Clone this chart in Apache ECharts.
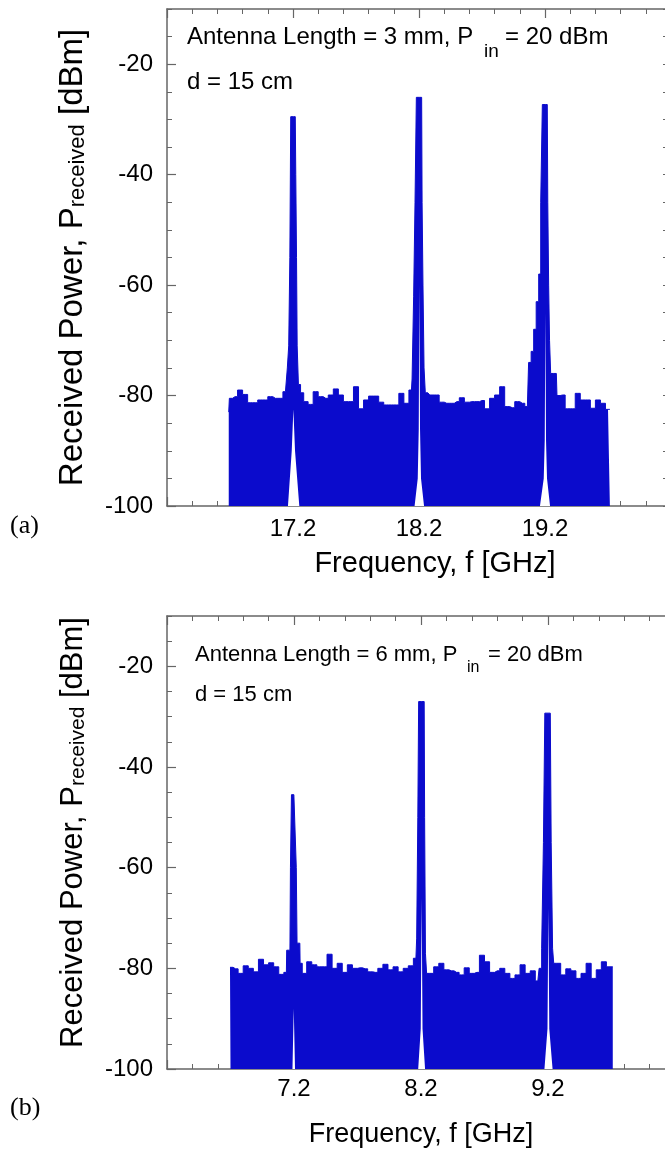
<!DOCTYPE html>
<html><head><meta charset="utf-8">
<script src="https://cdn.jsdelivr.net/npm/echarts@6/dist/echarts.min.js"></script>
<style>html,body{margin:0;padding:0;background:#fff}#c{width:665px;height:1152px}</style>
</head><body><div id="c"></div>
<script>
// ---------- Panel (a): 17.2 / 18.2 / 19.2 GHz, antenna 3 mm ----------
const freqA = [16.69, 16.70, 16.74, 16.78, 16.82, 16.86, 16.90, 16.94, 16.98, 17.02, 17.06, 17.10, 17.14,
  17.15, 17.16, 17.172, 17.178, 17.186, 17.218, 17.226, 17.23, 17.236, 17.25, 17.27,
  17.30, 17.34, 17.38, 17.42, 17.46, 17.50, 17.54, 17.58, 17.62, 17.66, 17.70, 17.74, 17.78, 17.82, 17.86, 17.90, 17.94, 17.98, 18.02, 18.06, 18.10, 18.14,
  18.15, 18.165, 18.172, 18.186, 18.221, 18.228, 18.235, 18.245, 18.255, 18.27,
  18.30, 18.34, 18.38, 18.42, 18.46, 18.50, 18.54, 18.58, 18.62, 18.66, 18.70, 18.74, 18.78, 18.82, 18.86, 18.90, 18.94, 18.98, 19.02, 19.06,
  19.08, 19.10, 19.12, 19.14, 19.16, 19.172, 19.186, 19.218, 19.226, 19.232, 19.24, 19.25, 19.29, 19.30,
  19.34, 19.38, 19.42, 19.46, 19.50, 19.54, 19.58, 19.62, 19.66, 19.70, 19.715];
const powerA = [-83.0, -80.5, -80.2, -79.0, -79.8, -81.3, -81.3, -80.8, -80.8, -80.2, -80.5, -80.5, -79.3,
  -79.0, -75.0, -71.0, -55.0, -29.5, -29.5, -40.0, -55.0, -71.0, -78.0, -79.5,
  -81.1, -81.6, -79.3, -80.2, -80.5, -79.9, -78.8, -79.9, -81.1, -81.1, -78.4, -82.4, -80.8, -80.1, -80.1, -81.2, -81.7, -81.7, -81.7, -79.6, -81.4, -79.0,
  -77.0, -62.0, -45.0, -26.0, -26.0, -45.0, -60.0, -75.0, -79.5, -79.5,
  -79.9, -79.9, -81.2, -81.4, -81.4, -81.1, -80.4, -81.2, -81.1, -81.1, -80.9, -82.4, -80.5, -79.9, -78.4, -82.0, -82.2, -81.1, -81.4, -82.0,
  -74.0, -72.0, -68.0, -63.0, -58.0, -45.0, -27.3, -27.3, -45.0, -60.0, -70.0, -76.0, -76.0, -80.0,
  -79.9, -82.4, -82.4, -79.6, -80.8, -80.8, -82.3, -80.8, -81.4, -82.5, -82.5];
// lower edge of the trace under each carrier (white notch)
const gapFreqA = [17.16, 17.19, 17.203, 17.216, 17.25, 18.165, 18.19, 18.198, 18.203, 18.208, 18.216, 18.24, 19.16, 19.19, 19.198, 19.203, 19.208, 19.216, 19.24];
const gapLowA  = [-100, -90, -82.5, -90, -100, -100, -95, -86, -60, -86, -95, -100, -100, -95, -88, -65, -88, -95, -100];

// ---------- Panel (b): 7.2 / 8.2 / 9.2 GHz, antenna 6 mm ----------
const freqB = [6.696, 6.70, 6.74, 6.78, 6.82, 6.86, 6.90, 6.94, 6.98, 7.02, 7.06, 7.10, 7.14,
  7.145, 7.168, 7.176, 7.184, 7.214, 7.222, 7.226, 7.246, 7.25,
  7.28, 7.32, 7.36, 7.40, 7.44, 7.48, 7.52, 7.56, 7.60, 7.64, 7.68, 7.72, 7.76, 7.80, 7.84, 7.88, 7.92, 7.96, 8.00, 8.04, 8.08, 8.12, 8.16,
  8.172, 8.178, 8.185, 8.225, 8.232, 8.238, 8.25,
  8.28, 8.32, 8.36, 8.40, 8.44, 8.48, 8.52, 8.56, 8.60, 8.64, 8.68, 8.72, 8.76, 8.80, 8.84, 8.88, 8.92, 8.96, 9.00, 9.04, 9.08, 9.12,
  9.14, 9.16, 9.168, 9.182, 9.218, 9.232, 9.24, 9.25,
  9.28, 9.32, 9.36, 9.40, 9.44, 9.48, 9.52, 9.56, 9.60, 9.64, 9.68, 9.71];
const powerB = [-79.8, -79.8, -80.1, -81.0, -79.5, -80.0, -80.7, -78.2, -79.3, -78.9, -79.7, -81.2, -80.8,
  -76.4, -76.4, -60.0, -45.5, -45.5, -60.0, -75.0, -75.0, -79.0,
  -81.0, -78.7, -79.3, -79.7, -79.7, -77.2, -80.0, -79.0, -80.8, -79.3, -80.0, -79.9, -80.1, -80.7, -80.8, -80.0, -79.2, -80.3, -79.7, -80.7, -80.0, -79.5, -78.0,
  -74.0, -50.0, -27.0, -27.0, -50.0, -77.0, -81.0,
  -81.0, -79.7, -79.0, -80.3, -80.5, -80.8, -81.3, -79.9, -81.0, -80.8, -77.4, -78.7, -80.8, -80.5, -80.0, -81.0, -82.0, -81.3, -79.3, -81.0, -80.5, -82.5,
  -80.0, -76.0, -55.0, -29.3, -29.3, -55.0, -76.0, -79.0,
  -79.0, -81.3, -80.1, -80.5, -82.0, -81.0, -79.0, -82.0, -80.3, -78.7, -79.7, -79.7];
const gapFreqB = [7.188, 7.198, 7.208, 8.178, 8.198, 8.205, 8.212, 8.232, 9.172, 9.196, 9.203, 9.21, 9.236];
const gapLowB  = [-100, -88, -100, -100, -92, -66, -92, -100, -100, -92, -68, -92, -100];

const xRangeA = [16.2, 20.2];
const xRangeB = [6.2, 10.2];
const yRange = [-100, -10];

const BLUE = '#0b0bcc';
const AX = '#666';
const FONT = '"Liberation Sans", Arial, sans-serif';
const SERIF = '"Liberation Serif", "Times New Roman", serif';

function pairs(xs, ys) { return xs.map((x, i) => [x, ys[i]]); }

function xAxisPair(g, range, labelMargin, nameGap, nameSize, namePad) {
  const common = {
    gridIndex: g, type: 'value', min: range[0], max: range[1], interval: 1,
    axisLine: { show: true, onZero: false, lineStyle: { color: AX, width: 1.5 } },
    axisTick: { show: true, inside: true, length: 9, lineStyle: { color: AX, width: 1.2 } },
    minorTick: { show: true, splitNumber: 5, length: 5, lineStyle: { color: AX, width: 1 } },
    splitLine: { show: false }, minorSplitLine: { show: false }
  };
  return [
    Object.assign({}, common, {
      position: 'bottom',
      axisLabel: { show: true, margin: labelMargin, fontSize: 24, fontFamily: FONT, color: '#000',
        showMinLabel: false, showMaxLabel: false, formatter: v => v.toFixed(1) },
      name: 'Frequency, f [GHz]', nameLocation: 'middle', nameGap: nameGap,
      nameTextStyle: { fontSize: nameSize, fontFamily: FONT, color: '#000', padding: namePad }
    }),
    Object.assign({}, common, { position: 'top', axisLabel: { show: false } })
  ];
}

function yAxisSet(g, nameGap, nameSize, namePad) {
  const base = { gridIndex: g, type: 'value', min: yRange[0], max: yRange[1], splitLine: { show: false } };
  return [
    Object.assign({}, base, {
      position: 'left', interval: 20,
      axisLine: { show: true, onZero: false, lineStyle: { color: AX, width: 1.5 } },
      axisTick: { show: true, inside: true, length: 9, lineStyle: { color: AX, width: 1.2 } },
      axisLabel: { show: true, margin: 14, fontSize: 24, fontFamily: FONT, color: '#000', showMaxLabel: false,
        formatter: v => String(v) },
      name: 'Received Power, P{s|received} [dBm]', nameLocation: 'middle', nameRotate: 90, nameGap: nameGap,
      nameTextStyle: { fontSize: nameSize, fontFamily: FONT, color: '#000', padding: namePad,
        rich: { s: { fontSize: Math.round(nameSize * 0.68), fontFamily: FONT, color: '#000', verticalAlign: 'bottom' } } }
    }),
    Object.assign({}, base, {
      position: 'left', interval: 5,
      axisLine: { show: false },
      axisTick: { show: true, inside: true, length: 5, lineStyle: { color: AX, width: 1 } },
      axisLabel: { show: false }
    }),
    Object.assign({}, base, {
      position: 'right', interval: 5,
      axisLine: { show: true, onZero: false, lineStyle: { color: AX, width: 1.5 } },
      axisTick: { show: true, inside: true, length: 8, lineStyle: { color: AX, width: 1 } },
      axisLabel: { show: false }
    })
  ];
}

function traceSeries(xi, yi, xs, ys) {
  return {
    type: 'line', xAxisIndex: xi, yAxisIndex: yi, data: pairs(xs, ys),
    symbol: 'none', showSymbol: false, step: 'middle',
    lineStyle: { color: BLUE, width: 1 },
    areaStyle: { color: BLUE, opacity: 1, origin: 'start' },
    z: 2
  };
}
function gapSeries(xi, yi, xs, ys) {
  return {
    type: 'line', xAxisIndex: xi, yAxisIndex: yi, data: pairs(xs, ys),
    symbol: 'none', showSymbol: false,
    lineStyle: { width: 0, color: '#fff' },
    areaStyle: { color: '#fff', opacity: 1, origin: 'start' },
    z: 3
  };
}

function txt(x, y, text, size, family) {
  return { type: 'text', x: x, y: y, style: { text: text, fontSize: size, fontFamily: family || FONT, fill: '#000', verticalAlign: 'middle', align: 'left' } };
}

const chart = echarts.init(document.getElementById('c'), null, { renderer: 'canvas' });
chart.setOption({
  animation: false,
  backgroundColor: '#fff',
  grid: [
    { left: 167, top: 9, width: 504, height: 497, containLabel: false, outerBoundsMode: 'none' },
    { left: 167, top: 616, width: 508, height: 453, containLabel: false, outerBoundsMode: 'none' }
  ],
  xAxis: [].concat(
    xAxisPair(0, xRangeA, 11, 43, 29, [0, 0, 0, 32]),
    xAxisPair(1, xRangeB, 8, 52, 27, [0, 0, 0, 0])
  ),
  yAxis: [].concat(
    yAxisSet(0, 78, 33, [0, 0, 0, 0]),
    yAxisSet(1, 78, 31, [0, 0, 0, 20])
  ),
  series: [
    traceSeries(0, 0, freqA, powerA),
    gapSeries(0, 0, gapFreqA, gapLowA),
    traceSeries(2, 3, freqB, powerB),
    gapSeries(2, 3, gapFreqB, gapLowB)
  ],
  graphic: [
    txt(187, 37, 'Antenna Length = 3 mm, P', 24),
    txt(484, 52, 'in', 19),
    txt(505, 37, '= 20 dBm', 24),
    txt(187, 82, 'd = 15 cm', 24),
    txt(195, 655, 'Antenna Length = 6 mm, P', 22),
    txt(467, 668, 'in', 16),
    txt(488, 655, '= 20 dBm', 22),
    txt(195, 695, 'd = 15 cm', 22),
    txt(10, 526, '(a)', 26, SERIF),
    txt(10, 1108, '(b)', 26, SERIF)
  ]
});
</script>
</body></html>
